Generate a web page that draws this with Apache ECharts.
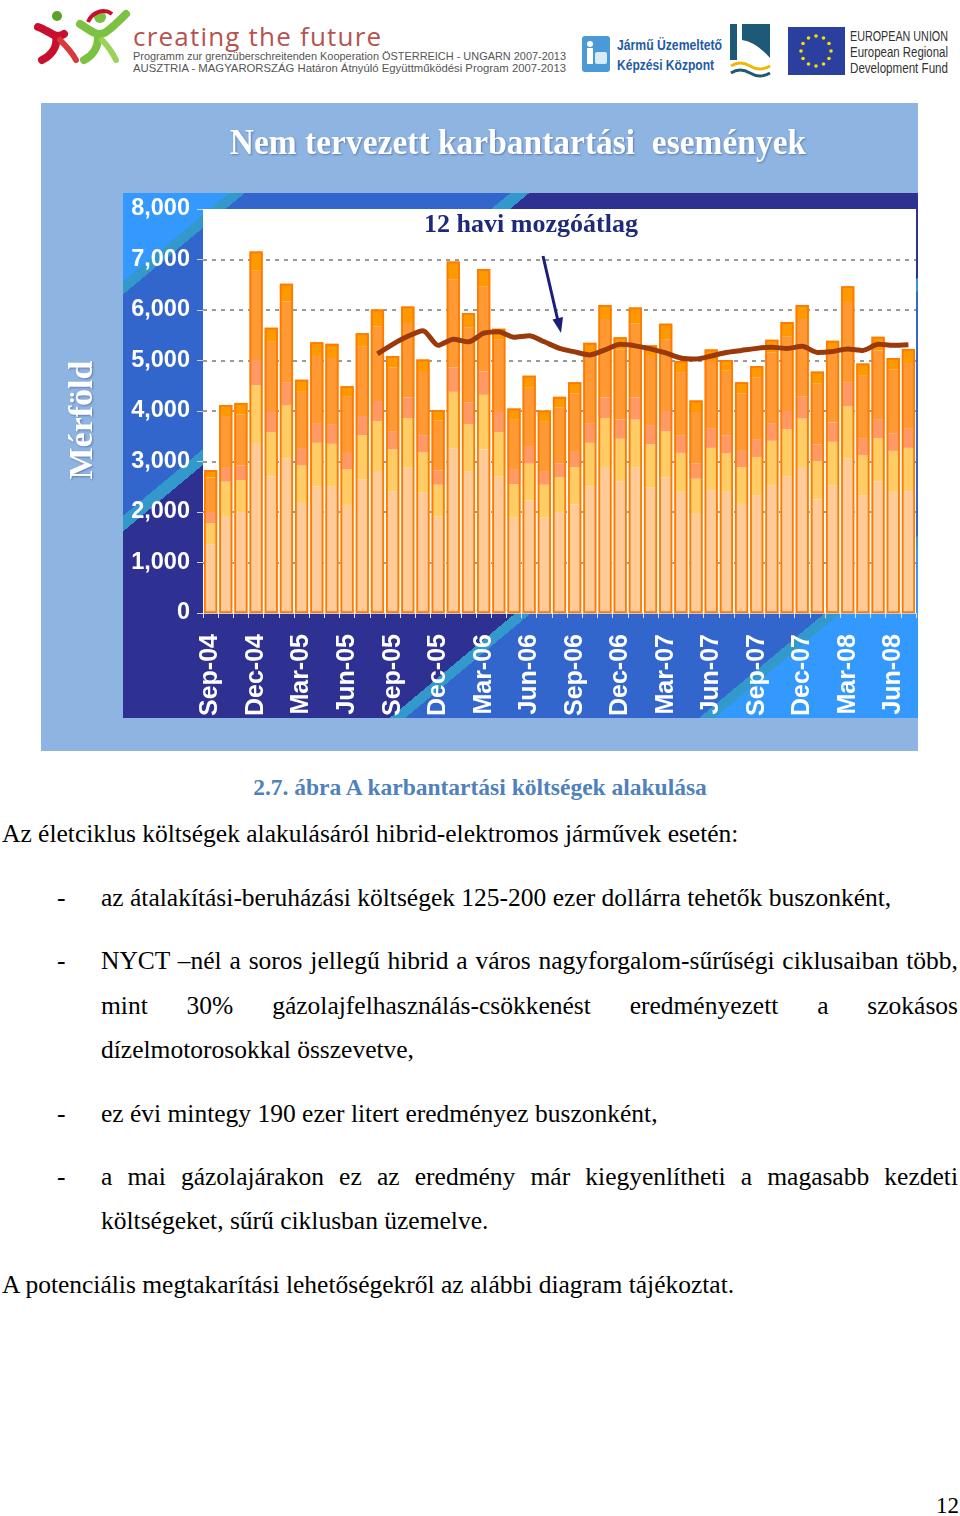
<!DOCTYPE html>
<html>
<head>
<meta charset="utf-8">
<script src="https://cdn.jsdelivr.net/npm/echarts@6/dist/echarts.min.js"></script>
<style>
  body { margin: 0; width: 960px; height: 1516px; background: #fff; position: relative; overflow: hidden; }
  .frame { position: absolute; left: 41px; top: 103px; width: 877px; height: 648px; background: #8eb4e2; }
  .panel { position: absolute; left: 123px; top: 193px; width: 795px; height: 525px;
    background: linear-gradient(140.2deg,
      #3399ff 0px, #3399ff 68px, #3399cc 68px, #3399cc 78px, #3366cc 78px, #3366cc 248px,
      #3399cc 248px, #3399cc 260px, #2e3192 260px, #2e3192 574px, #3399cc 574px, #3399cc 584px,
      #3366cc 584px, #3366cc 772px, #3399cc 772px, #3399cc 782px, #3399ff 782px); }
  #chart { position: absolute; left: 41px; top: 103px; width: 877px; height: 648px; }
  .t { position: absolute; font-family: "Liberation Serif", serif; font-size: 25.5px; line-height: 30px; color: #000; white-space: nowrap; }
  .j { white-space: normal; text-align: justify; text-align-last: justify; }
  .cap { font-weight: bold; color: #4f81bd; font-size: 23.5px; width: 960px; left: 0; text-align: center; }
</style>
</head>
<body>
<svg style="position:absolute;left:0;top:0" width="960" height="90">
  <!-- left logo -->
  <path d="M38 27 C48 30 56 40 64 34" stroke="#c8102e" stroke-width="8" fill="none" stroke-linecap="round"/>
  <path d="M56 36 C58 48 50 56 42 60" stroke="#c8102e" stroke-width="8" fill="none" stroke-linecap="round"/>
  <path d="M60 40 C66 46 72 52 76 60" stroke="#d83a3a" stroke-width="6" fill="none" stroke-linecap="round"/>
  <circle cx="57" cy="16" r="5" fill="#5aa02c"/>
  <path d="M80 24 C90 30 98 38 106 32 C112 28 118 22 126 14" stroke="#7cc242" stroke-width="8" fill="none" stroke-linecap="round"/>
  <path d="M98 38 C98 48 92 56 84 60" stroke="#7cc242" stroke-width="8" fill="none" stroke-linecap="round"/>
  <path d="M102 40 C108 46 112 52 116 60" stroke="#9bd35a" stroke-width="6" fill="none" stroke-linecap="round"/>
  <circle cx="100" cy="17" r="6" fill="#7cc242"/>
  <path d="M88 22 C92 12 104 8 112 14" stroke="#c8102e" stroke-width="4" fill="none"/>
  <text x="133" y="46" font-family="Open Sans" font-size="26" fill="#b5534f" letter-spacing="1.2">creating the future</text>
  <text x="133" y="60" font-family="Liberation Sans" font-size="11" fill="#555" textLength="433" lengthAdjust="spacingAndGlyphs">Programm zur grenzüberschreitenden Kooperation ÖSTERREICH - UNGARN 2007-2013</text>
  <text x="133" y="72" font-family="Liberation Sans" font-size="11" fill="#555" textLength="433" lengthAdjust="spacingAndGlyphs">AUSZTRIA - MAGYARORSZÁG Határon Átnyúló Együttműködési Program 2007-2013</text>
  <!-- jármű logo -->
  <rect x="582" y="36" width="28" height="36" rx="3" fill="#4a9ad8"/>
  <circle cx="590" cy="44" r="3" fill="#fff"/>
  <rect x="587" y="48" width="6" height="16" fill="#fff"/>
  <rect x="595" y="52" width="12" height="12" rx="2" fill="#d8ecf8"/>
  <text x="617" y="50" font-family="Liberation Sans" font-weight="bold" font-size="14" fill="#1f5ba6" textLength="105" lengthAdjust="spacingAndGlyphs">Jármű Üzemeltető</text>
  <text x="617" y="70" font-family="Liberation Sans" font-weight="bold" font-size="14" fill="#1f5ba6" textLength="97" lengthAdjust="spacingAndGlyphs">Képzési Központ</text>
  <!-- box logo -->
  <rect x="729" y="23" width="43" height="53" fill="#fff"/>
  <rect x="730" y="24" width="7" height="36" fill="#1e5a78"/>
  <path d="M742 24 L770 24 L770 58 Q756 42 742 40 Z" fill="#1e5a78"/>
  <path d="M731 66 Q740 60 750 66 T770 66" stroke="#f2b705" stroke-width="3" fill="none"/>
  <path d="M731 73 Q740 67 750 73 T770 73" stroke="#1e5a78" stroke-width="3" fill="none"/>
  <!-- EU flag -->
  <rect x="788" y="27" width="57" height="48" fill="#2b3f9e"/>
  <g fill="#ffdd00">
    <circle cx="816" cy="36" r="1.8"/><circle cx="823.5" cy="38" r="1.8"/><circle cx="829" cy="43.5" r="1.8"/>
    <circle cx="831" cy="51" r="1.8"/><circle cx="829" cy="58.5" r="1.8"/><circle cx="823.5" cy="64" r="1.8"/>
    <circle cx="816" cy="66" r="1.8"/><circle cx="808.5" cy="64" r="1.8"/><circle cx="803" cy="58.5" r="1.8"/>
    <circle cx="801" cy="51" r="1.8"/><circle cx="803" cy="43.5" r="1.8"/><circle cx="808.5" cy="38" r="1.8"/>
  </g>
  <text x="850" y="41" font-family="Liberation Sans" font-size="14" fill="#333" textLength="98" lengthAdjust="spacingAndGlyphs">EUROPEAN UNION</text>
  <text x="850" y="57" font-family="Liberation Sans" font-size="14" fill="#333" textLength="98" lengthAdjust="spacingAndGlyphs">European Regional</text>
  <text x="850" y="73" font-family="Liberation Sans" font-size="14" fill="#333" textLength="98" lengthAdjust="spacingAndGlyphs">Development Fund</text>
</svg>

<div class="frame"></div>
<div class="panel"></div>
<div id="chart"></div>

<div class="t cap" style="top:772px">2.7. ábra A karbantartási költségek alakulása</div>
<div class="t" style="left:2px;top:819px">Az életciklus költségek alakulásáról hibrid-elektromos járművek esetén:</div>
<div class="t" style="left:57px;top:883px">-</div>
<div class="t" style="left:101px;top:883px">az átalakítási-beruházási költségek 125-200 ezer dollárra tehetők buszonként,</div>
<div class="t" style="left:57px;top:946px">-</div>
<div class="t j" style="left:101px;top:946px;width:857px">NYCT –nél a soros jellegű hibrid a város nagyforgalom-sűrűségi ciklusaiban több,</div>
<div class="t j" style="left:101px;top:991px;width:857px">mint 30% gázolajfelhasználás-csökkenést eredményezett a szokásos</div>
<div class="t" style="left:101px;top:1035px">dízelmotorosokkal összevetve,</div>
<div class="t" style="left:57px;top:1099px">-</div>
<div class="t" style="left:101px;top:1099px">ez évi mintegy 190 ezer litert eredményez buszonként,</div>
<div class="t" style="left:57px;top:1162px">-</div>
<div class="t j" style="left:101px;top:1162px;width:857px">a mai gázolajárakon ez az eredmény már kiegyenlítheti a magasabb kezdeti</div>
<div class="t" style="left:101px;top:1206px">költségeket, sűrű ciklusban üzemelve.</div>
<div class="t" style="left:2px;top:1270px">A potenciális megtakarítási lehetőségekről az alábbi diagram tájékoztat.</div>
<div class="t" style="left:936px;top:1491px;font-size:23px">12</div>

<script>
// months on the x axis
var categories = ['Sep-04','Oct-04','Nov-04','Dec-04','Jan-05','Feb-05','Mar-05','Apr-05','May-05','Jun-05','Jul-05','Aug-05',
  'Sep-05','Oct-05','Nov-05','Dec-05','Jan-06','Feb-06','Mar-06','Apr-06','May-06','Jun-06','Jul-06','Aug-06',
  'Sep-06','Oct-06','Nov-06','Dec-06','Jan-07','Feb-07','Mar-07','Apr-07','May-07','Jun-07','Jul-07','Aug-07',
  'Sep-07','Oct-07','Nov-07','Dec-07','Jan-08','Feb-08','Mar-08','Apr-08','May-08','Jun-08','Jul-08'];

// stacked parts of each bar, bottom to top (mérföld)
var part1 = [1360,1920,2000,3350,2710,3060,2180,2510,2500,2140,2650,2810,2410,2880,2390,1910,3260,2800,3240,2700,1890,2230,1890,2000,2150,2510,2890,2610,2880,2490,2690,2400,1980,2430,2400,2160,2330,2530,2710,2890,2250,2530,3060,2330,2610,2400,2410];
var part2 = [420,680,630,1160,870,1050,740,860,850,710,870,990,830,980,790,630,1120,940,1080,880,660,730,650,690,740,860,970,840,950,850,910,770,680,840,760,730,760,880,930,960,760,860,1030,790,850,810,860];
var part3 = [220,290,290,500,400,450,330,380,380,320,380,400,350,410,340,280,480,430,460,400,300,330,270,270,300,380,410,380,440,380,400,340,300,380,360,320,340,350,360,430,330,380,470,330,380,350,380];
var part4 = [680,1010,1010,1770,1390,1610,1130,1340,1320,1110,1380,1480,1270,1490,1270,990,1750,1490,1690,1440,990,1170,990,1110,1160,1370,1550,1390,1470,1370,1420,1260,1020,1340,1280,1140,1240,1400,1480,1540,1210,1380,1600,1260,1360,1260,1300];
var part5 = [150,220,230,380,280,350,240,270,280,210,260,330,230,310,230,210,350,280,340,210,210,240,210,210,220,230,280,240,310,210,310,220,230,230,210,220,220,250,280,280,230,240,310,230,270,230,280];

// 12 havi mozgóátlag (starts at the 12th month)
var movingAvg = [null,null,null,null,null,null,null,null,null,null,null,
  5130,5320,5480,5590,5300,5420,5370,5540,5570,5460,5490,5370,5240,5170,5110,5210,5320,5290,5230,5150,5050,5030,
  5090,5160,5200,5240,5260,5240,5280,5160,5180,5230,5200,5320,5300,5310];

var yTicks = { min: 0, max: 8000, interval: 1000 };

var partColors = ['#ffcc99', '#ffcc66', '#ff9966', '#ff9933', '#ff9900'];
var parts = [part1, part2, part3, part4, part5];

var totals = part1.map(function (v, i) {
  return v + part2[i] + part3[i] + part4[i] + part5[i];
});

var chart = echarts.init(document.getElementById('chart'), null, { renderer: 'canvas' });

var series = parts.map(function (p, k) {
  return {
    name: 'p' + (k + 1),
    type: 'bar',
    stack: 'all',
    data: p,
    itemStyle: { color: partColors[k] },
    z: 2,
    silent: true
  };
});

// orange outline round every bar
series.push({
  name: 'outline',
  type: 'bar',
  data: totals,
  barGap: '-100%',
  barCategoryGap: '13%',
  itemStyle: { color: 'rgba(0,0,0,0)', borderColor: '#ff7a00', borderWidth: 1.8 },
  z: 3,
  silent: true
});

series.push({
  name: '12 havi mozgóátlag',
  type: 'line',
  data: movingAvg,
  symbol: 'none',
  smooth: 0.25,
  lineStyle: { color: '#9a3a0a', width: 5 },
  z: 5,
  silent: true
});

var option = {
  animation: false,
  grid: { left: 162, right: 2, top: 106, bottom: 138, show: true, backgroundColor: '#fff', borderWidth: 0 },
  xAxis: {
    type: 'category',
    data: categories,
    axisLine: { show: true, lineStyle: { color: '#c8cbe6', width: 1 } },
    axisTick: { show: true, interval: 0, length: 5, lineStyle: { color: '#e0e0f0' } },
    axisLabel: {
      interval: 2, rotate: 90, margin: 21, color: '#fff',
      fontWeight: 'bold', fontSize: 25, fontFamily: 'Liberation Sans'
    }
  },
  yAxis: {
    type: 'value',
    min: yTicks.min, max: yTicks.max, interval: yTicks.interval,
    axisLine: { show: false },
    axisTick: { show: true, length: 6, lineStyle: { color: '#d0d0e0' } },
    axisLabel: {
      margin: 13, color: '#fff', fontWeight: 'bold', fontSize: 23.5, fontFamily: 'Liberation Sans',
      formatter: function (v) { return v.toLocaleString('en-US'); }
    },
    splitLine: { show: true, showMinLine: false, showMaxLine: false, lineStyle: { color: '#9a9a9a', type: [4, 5], width: 2 } }
  },
  series: series,
  graphic: [
    {
      type: 'text', x: 477, y: 42, scaleX: 0.93,
      style: {
        text: 'Nem tervezett karbantartási  események', fill: '#fff',
        font: 'bold 36px "Liberation Serif"', textAlign: 'center', textVerticalAlign: 'middle',
        textShadowColor: 'rgba(40,60,110,0.45)', textShadowBlur: 2, textShadowOffsetX: 1, textShadowOffsetY: 1
      }
    },
    {
      type: 'text', x: 42, y: 317, rotation: Math.PI / 2,
      style: {
        text: 'Mérföld', fill: '#fff',
        font: 'bold 34px "Liberation Serif"', textAlign: 'center', textVerticalAlign: 'middle',
        textShadowColor: 'rgba(40,60,110,0.45)', textShadowBlur: 2, textShadowOffsetX: 1, textShadowOffsetY: 1
      }
    },
    {
      type: 'text', x: 490, y: 122, z: 10,
      style: {
        text: '12 havi mozgóátlag', fill: '#1f2a7a',
        font: 'bold 26px "Liberation Serif"', textAlign: 'center', textVerticalAlign: 'middle'
      }
    },
    {
      type: 'line', z: 10,
      shape: { x1: 502, y1: 153, x2: 517, y2: 218 },
      style: { stroke: '#1b1f7a', lineWidth: 3 }
    },
    {
      type: 'polygon', z: 10,
      shape: { points: [[520, 230], [522, 214], [511.5, 216.5]] },
      style: { fill: '#1b1f7a' }
    }
  ]
};

chart.setOption(option);
</script>
</body>
</html>
